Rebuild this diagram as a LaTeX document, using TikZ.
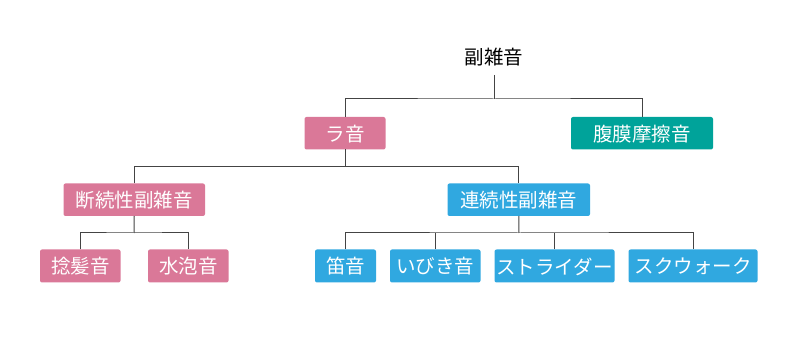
\documentclass[tikz,border=0pt]{standalone}
\usepackage{fontspec}
\setmainfont{Noto Sans CJK JP}
\definecolor{rpink}{HTML}{DA7898}
\definecolor{rteal}{HTML}{00A39A}
\definecolor{rblue}{HTML}{30A8E0}
\definecolor{rline}{HTML}{444444}
\begin{document}
\begin{tikzpicture}[x=1pt,y=-1pt,
  lbl/.style={text=white,font=\fontsize{19.5}{21}\selectfont,anchor=center,inner sep=0pt},
  pbox/.style={fill=rpink,rounded corners=2pt},
  tbox/.style={fill=rteal,rounded corners=2pt},
  bbox/.style={fill=rblue,rounded corners=2pt},
  conn/.style={draw=rline,line width=1pt}]
\useasboundingbox (0,0) rectangle (798,344);
% boxes
\newcommand{\mybox}[7]{% name, style, x1,y1,x2,y2, text
  \fill[#2] (#3,#4) rectangle (#5,#6);
  \node[lbl] (#1) at ({(#3+#5)/2},{(#4+#6)/2+0.5}) {#7};
  \coordinate (#1t) at ({(#3+#5)/2},#4);
  \coordinate (#1b) at ({(#3+#5)/2},#6);}
\node[font=\fontsize{19.5}{21}\selectfont,inner sep=0pt] (root) at (494,57) {副雑音};
\coordinate (roott) at (494,75);
\mybox{ra}{pbox}{304.5}{117}{385.5}{149.5}{ラ音}
\mybox{fm}{tbox}{571}{117}{713}{149.5}{腹膜摩擦音}
\mybox{dz}{pbox}{63.5}{183.5}{205}{216}{断続性副雑音}
\mybox{rz}{bbox}{447.5}{183.5}{590}{216}{連続性副雑音}
\mybox{nh}{pbox}{40}{249.5}{120.5}{282.5}{捻髪音}
\mybox{sh}{pbox}{148}{249.5}{228.5}{282.5}{水泡音}
\mybox{fe}{bbox}{315}{249.5}{376}{282.5}{笛音}
\mybox{ib}{bbox}{390}{249.5}{480.5}{282.5}{いびき音}
\mybox{st}{bbox}{494.5}{249.5}{614.5}{282.5}{ストライダー}
\mybox{sk}{bbox}{628.5}{249.5}{757.5}{282.5}{スクウォーク}
% connectors
\coordinate (j1) at (494,99);
\draw[conn] (roott) -- (j1);
\draw[conn] (rat) |- (j1) -| (fmt);
\coordinate (j2) at (345,166.5);
\draw[conn] (rab) -- (j2);
\draw[conn] (dzt) |- (j2) -| (rzt);
\coordinate (j3) at (134,233);
\draw[conn] (dzb) -- (j3);
\draw[conn] (nht) |- (j3) -| (sht);
\coordinate (j4) at (519,233);
\draw[conn] (rzb) -- (j4);
\draw[conn] (fet) |- (j4) -| (skt);
\draw[conn] (ibt) -- (ibt |- j4);
\draw[conn] (stt) -- (stt |- j4);
\end{tikzpicture}
\end{document}
